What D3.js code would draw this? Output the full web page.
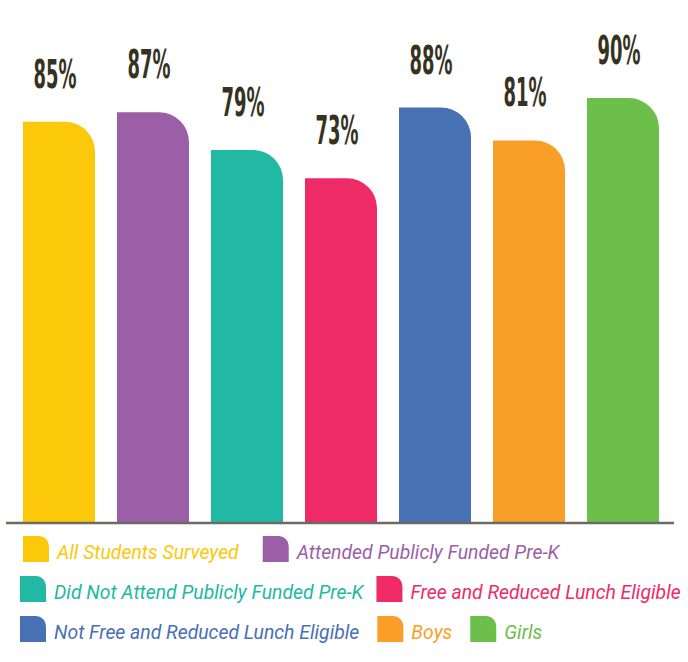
<!DOCTYPE html>
<html>
<head>
<meta charset="utf-8">
<script src="https://cdn.jsdelivr.net/npm/d3@7"></script>
<style>
  body { margin: 0; background: #fff; }
  svg { display: block; }
</style>
</head>
<body>
<div id="chart"></div>
<script>
// data
const groups = [
  "All Students Surveyed",
  "Attended Publicly Funded Pre-K",
  "Did Not Attend Publicly Funded Pre-K",
  "Free and Reduced Lunch Eligible",
  "Not Free and Reduced Lunch Eligible",
  "Boys",
  "Girls"
];
const values = [85, 87, 79, 73, 88, 81, 90];
const colors = ["#FCC80A", "#9B5FA7", "#21B9A3", "#EE2B67", "#4770B5", "#F99F27", "#6CBF4A"];
// which legend row each group sits on
const legendRows = [0, 0, 1, 1, 2, 2, 2];

const width = 688, height = 662;
const baseY = 522;

const svg = d3.select("#chart")
  .append("svg")
  .attr("width", width)
  .attr("height", height);

// step 94px, bar 72px
const xScale = d3.scaleBand()
  .domain(groups)
  .range([23, 659])
  .paddingInner(22 / 94)
  .paddingOuter(0);

const yScale = d3.scaleLinear()
  .domain([0, 100])
  .range([baseY, 51]);

const colorScale = d3.scaleOrdinal().domain(groups).range(colors);

// bar with only the top-right corner rounded
function roundTopRight(x, y, w, h, r) {
  r = Math.min(r, w, h);
  return `M${x},${y + h}V${y}H${x + w - r}A${r},${r} 0 0 1 ${x + w},${y + r}V${y + h}Z`;
}

const data = groups.map((g, i) => ({ group: g, value: values[i] }));

svg.append("g")
  .selectAll("path")
  .data(data)
  .enter().append("path")
  .attr("d", d => roundTopRight(xScale(d.group), yScale(d.value), xScale.bandwidth(), baseY - yScale(d.value), 30))
  .attr("fill", d => colorScale(d.group));

// value labels
svg.append("g")
  .selectAll("text")
  .data(data)
  .enter().append("text")
  .attr("x", d => xScale(d.group) + xScale.bandwidth() / 2 - 4)
  .attr("y", d => yScale(d.value) - 34)
  .attr("text-anchor", "middle")
  .attr("font-family", "'DejaVu Sans Condensed', 'Liberation Sans Narrow', sans-serif")
  .attr("font-weight", "bold")
  .attr("font-size", "39px")
  .attr("textLength", 43)
  .attr("lengthAdjust", "spacingAndGlyphs")
  .attr("fill", "#35321f")
  .text(d => d.value + "%");

// baseline
svg.append("line")
  .attr("x1", 6)
  .attr("x2", 674)
  .attr("y1", baseY + 1)
  .attr("y2", baseY + 1)
  .attr("stroke", "#6b6b64")
  .attr("stroke-width", 2.5);

// legend
const rowY = [549, 589, 629];
const rowGap = [24, 13, 18];
const legend = svg.append("g");
const cursor = [23, 20, 20];
data.forEach((d, i) => {
  const row = legendRows[i];
  const x = cursor[row];
  const y = rowY[row];
  legend.append("path")
    .attr("d", roundTopRight(x, y - 13, 26, 26, 10))
    .attr("fill", colorScale(d.group));
  const t = legend.append("text")
    .attr("x", x + 34)
    .attr("y", y + 10)
    .attr("font-family", "Roboto, sans-serif")
    .attr("font-style", "italic")
    .attr("font-size", "19.4px")
    .attr("fill", colorScale(d.group))
    .text(d.group);
  cursor[row] = x + 34 + t.node().getComputedTextLength() + rowGap[row];
});
</script>
</body>
</html>
